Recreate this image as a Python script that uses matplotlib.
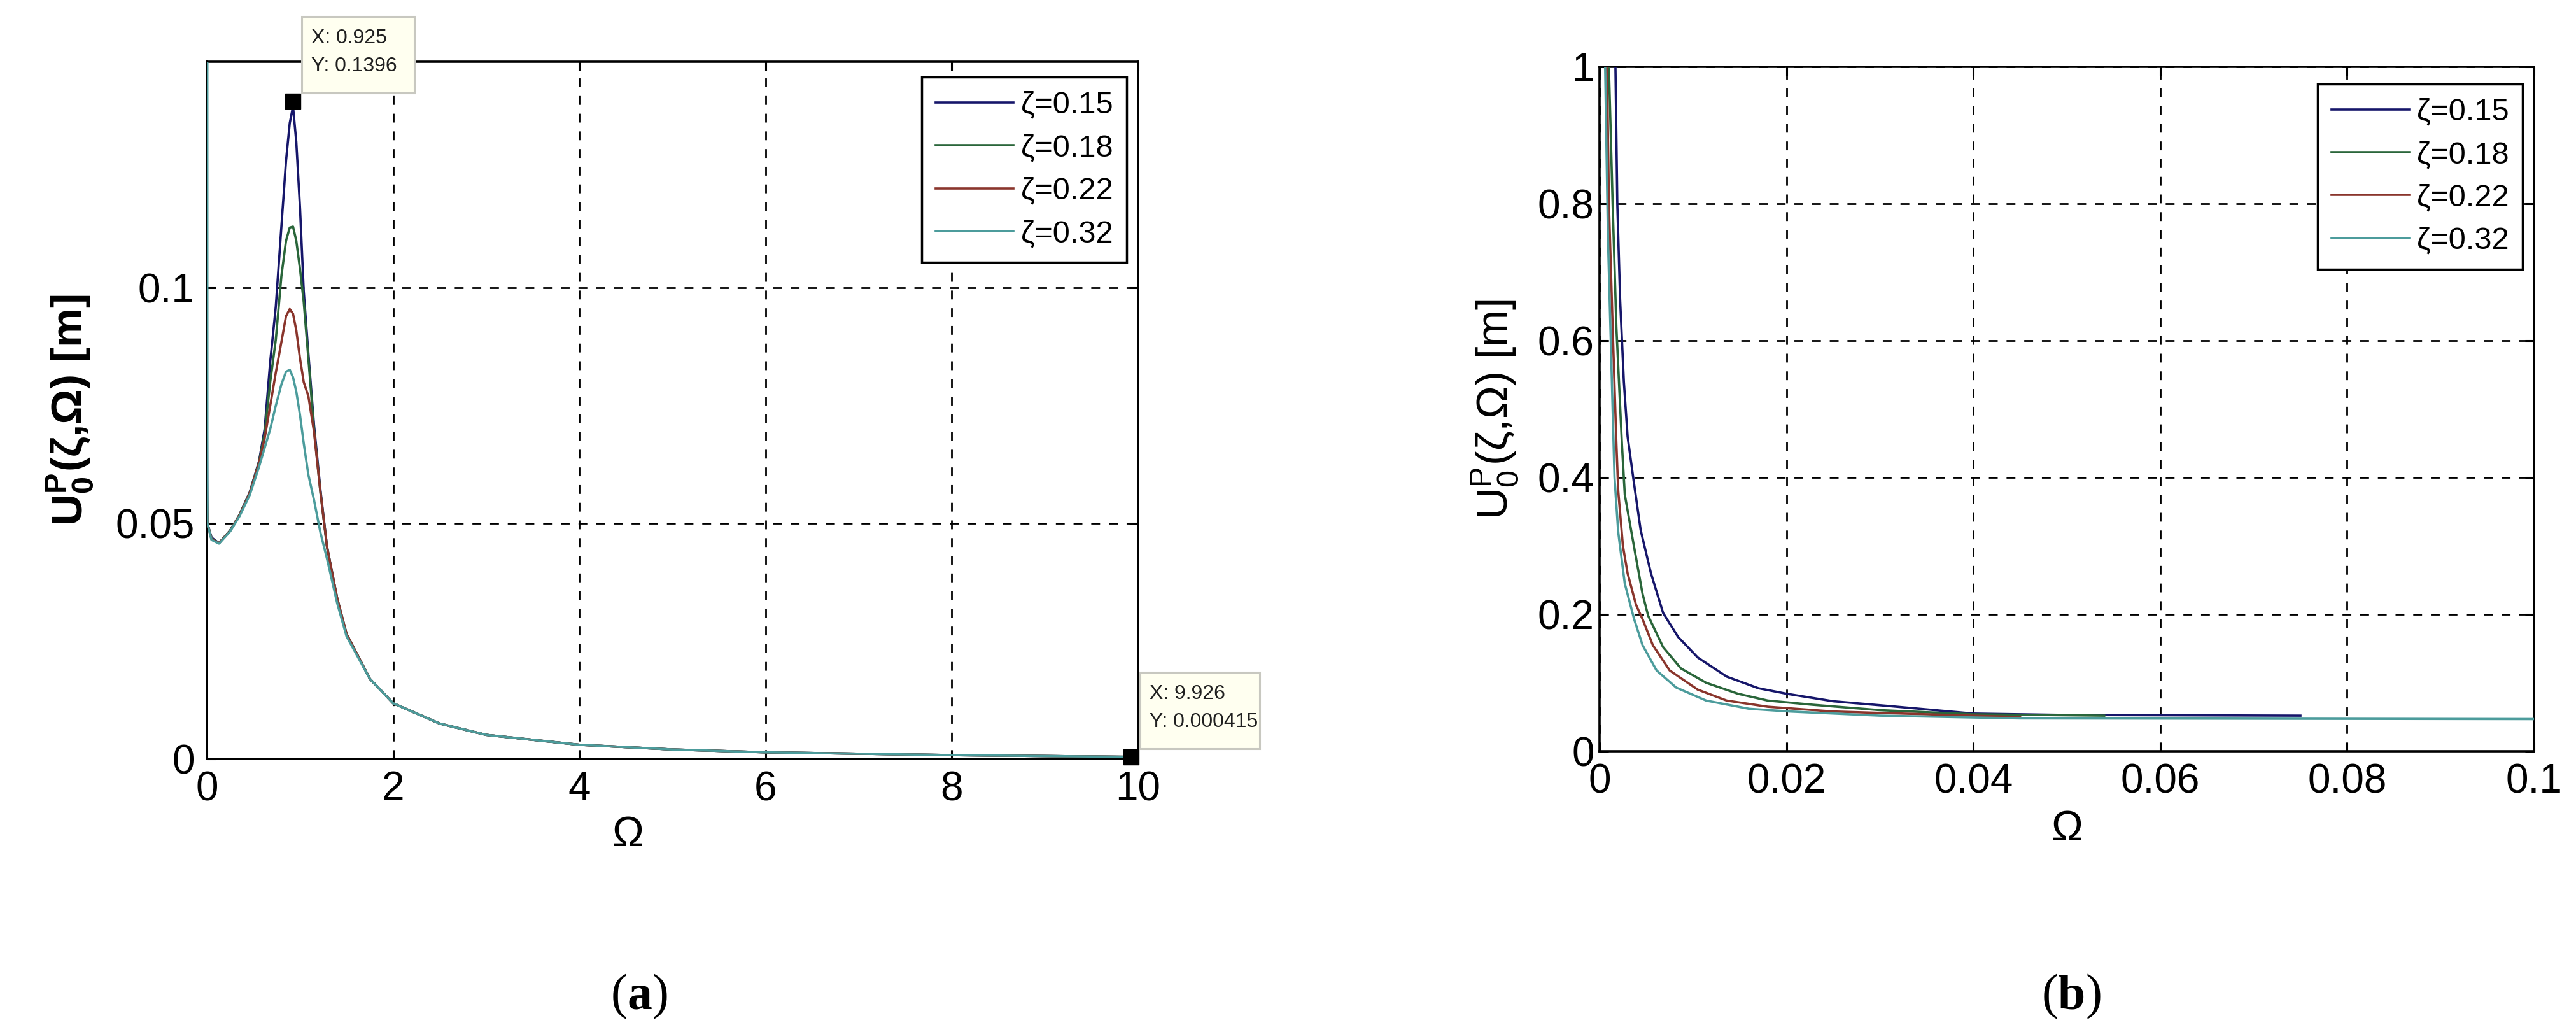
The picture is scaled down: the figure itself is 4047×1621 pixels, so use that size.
import matplotlib
matplotlib.use("Agg")
import matplotlib.pyplot as plt
from matplotlib.patches import Rectangle
from matplotlib.transforms import IdentityTransform, Bbox
from matplotlib.ticker import FormatStrFormatter
from matplotlib.offsetbox import TextArea, HPacker, AnnotationBbox

plt.rcParams['font.family'] = ['Liberation Sans', 'DejaVu Sans']
plt.rcParams['mathtext.fontset'] = 'custom'
plt.rcParams['mathtext.rm'] = 'Liberation Sans'
plt.rcParams['mathtext.it'] = 'Liberation Sans:italic'
plt.rcParams['mathtext.bf'] = 'Liberation Sans:bold'

zeta_labels = ['ζ=0.15', 'ζ=0.18', 'ζ=0.22', 'ζ=0.32']
colors = ['#16166a', '#2a663a', '#8a352c', '#4c9c9c']

# panel (a): 0 <= Omega <= 10
omega_a = [0.0, 0.005, 0.05, 0.13, 0.25, 0.35, 0.46, 0.56, 0.62, 0.68, 0.74, 0.80,
           0.85, 0.89, 0.925, 0.96, 1.00, 1.04, 1.09, 1.15, 1.22, 1.29, 1.40, 1.50,
           1.75, 2.0, 2.5, 3.0, 4.0, 5.0, 6.0, 8.0, 10.0]
u_a_015 = [0.076, 0.050, 0.047, 0.0458, 0.0485, 0.0518, 0.0566, 0.0632, 0.070, 0.0843, 0.096, 0.113,
           0.127, 0.135, 0.1385, 0.131, 0.117, 0.0993, 0.086, 0.071, 0.057, 0.0451, 0.034, 0.0265,
           0.017, 0.0118, 0.0075, 0.0051, 0.0030, 0.0020, 0.0014, 0.0008, 0.000415]
u_a_018 = [0.063, 0.050, 0.0468, 0.0458, 0.0485, 0.0518, 0.0565, 0.063, 0.069, 0.080, 0.089, 0.1025,
           0.110, 0.1128, 0.113, 0.110, 0.104, 0.097, 0.085, 0.070, 0.0565, 0.045, 0.034, 0.0265,
           0.017, 0.0118, 0.0075, 0.0051, 0.0030, 0.0020, 0.0014, 0.0008, 0.000415]
u_a_022 = [0.057, 0.050, 0.0466, 0.0458, 0.0484, 0.0517, 0.0564, 0.0628, 0.068, 0.075, 0.082, 0.0885,
           0.094, 0.0955, 0.0945, 0.091, 0.085, 0.080, 0.077, 0.0695, 0.0565, 0.045, 0.034, 0.0265,
           0.017, 0.0118, 0.0075, 0.0051, 0.0030, 0.0020, 0.0014, 0.0008, 0.000415]
u_a_032 = [1.0, 0.050, 0.0465, 0.0457, 0.0483, 0.0515, 0.056, 0.062, 0.066, 0.070, 0.075, 0.0795,
           0.0822, 0.0826, 0.081, 0.078, 0.073, 0.067, 0.0603, 0.055, 0.048, 0.0425, 0.033, 0.026,
           0.017, 0.0118, 0.0075, 0.0051, 0.0030, 0.0020, 0.0014, 0.0008, 0.000415]

# panel (b): zoom 0 <= Omega <= 0.1
omega_b_015 = [0.0015, 0.0017, 0.0019, 0.0022, 0.0026, 0.0030, 0.0037, 0.0044, 0.0055, 0.0068,
               0.0084, 0.0105, 0.0136, 0.017, 0.020, 0.025, 0.031, 0.040, 0.050, 0.075]
u_b_015 = [1.12, 1.0, 0.80, 0.66, 0.54, 0.46, 0.39, 0.323, 0.260, 0.202,
           0.167, 0.137, 0.109, 0.092, 0.084, 0.073, 0.066, 0.055, 0.053, 0.052]
omega_b_018 = [0.0009, 0.0010, 0.0014, 0.0018, 0.0024, 0.0027, 0.0037, 0.0046, 0.0052, 0.0068,
               0.0087, 0.0114, 0.0148, 0.018, 0.0227, 0.030, 0.040, 0.054]
u_b_018 = [1.12, 1.0, 0.80, 0.62, 0.447, 0.375, 0.298, 0.230, 0.198, 0.152,
           0.121, 0.100, 0.084, 0.074, 0.068, 0.060, 0.054, 0.052]
omega_b_022 = [0.0007, 0.0008, 0.0010, 0.0014, 0.0018, 0.0020, 0.0025, 0.0030, 0.0039, 0.0046,
               0.0057, 0.0075, 0.0105, 0.0136, 0.018, 0.025, 0.035, 0.045]
u_b_022 = [1.12, 1.0, 0.80, 0.62, 0.45, 0.38, 0.30, 0.26, 0.214, 0.193,
           0.155, 0.118, 0.090, 0.074, 0.065, 0.058, 0.054, 0.050]
omega_b_032 = [0.0005, 0.0006, 0.0009, 0.0013, 0.0016, 0.0020, 0.0027, 0.0037, 0.0046, 0.0061,
               0.0082, 0.0114, 0.016, 0.0204, 0.030, 0.045, 0.100]
u_b_032 = [1.12, 1.0, 0.75, 0.55, 0.40, 0.32, 0.245, 0.193, 0.155, 0.118,
           0.093, 0.074, 0.062, 0.058, 0.052, 0.048, 0.047]

tip_points = [(0.925, 0.1396), (9.926, 0.000415)]
tip_lines = [('X: 0.925', 'Y: 0.1396'), ('X: 9.926', 'Y: 0.000415')]
tip_widths = [177, 188]

W, H = 4048, 1621
fig = plt.figure(figsize=(W / 100, H / 100), dpi=100)


def px_axes(x0, y0, x1, y1):
    return fig.add_axes([x0 / W, 1 - y1 / H, (x1 - x0) / W, (y1 - y0) / H])


def style(ax):
    ax.grid(True, color='black', linestyle=(0, (5, 5)), linewidth=2.0)
    ax.tick_params(direction='in', length=10, width=2.2, top=True, right=True,
                   labelsize=46)
    ax.tick_params(axis='x', pad=13)
    for sp in ax.spines.values():
        sp.set_linewidth(2.6)
    ax.xaxis.set_major_formatter(FormatStrFormatter('%g'))
    ax.yaxis.set_major_formatter(FormatStrFormatter('%g'))


def add_legend(ax, anchor):
    leg = ax.legend(loc='upper right', bbox_to_anchor=anchor, fontsize=35,
                    handlelength=2.5, handletextpad=0.25, labelspacing=0.46,
                    borderpad=0.45, borderaxespad=0, fancybox=False, framealpha=1)
    leg.get_frame().set_edgecolor('black')
    leg.get_frame().set_linewidth(2.5)
    leg.set_zorder(10)


ax1 = px_axes(325, 97, 1788, 1192)
ax2 = px_axes(2513, 105, 3981, 1180)

for u, c, lab in zip([u_a_015, u_a_018, u_a_022, u_a_032], colors, zeta_labels):
    ax1.plot(omega_a, u, color=c, lw=2.6, label=lab, zorder=3)
ax1.set_xlim(0, 10)
ax1.set_ylim(0, 0.148)
ax1.set_xticks([0, 2, 4, 6, 8, 10])
ax1.set_yticks([0, 0.05, 0.1])
style(ax1)
ax1.tick_params(axis='y', pad=14)
ax1.set_xlabel('Ω', fontsize=48)
ax1.xaxis.set_label_coords(0.452, -0.081)
ax1.set_ylabel(r'U$_\mathbf{0}^\mathbf{P}$(ζ,Ω) [m]', fontsize=50, fontweight='bold')
ax1.yaxis.set_label_coords(-0.12, 0.5)
add_legend(ax1, (0.988, 0.978))

b_sets = [(omega_b_015, u_b_015), (omega_b_018, u_b_018),
          (omega_b_022, u_b_022), (omega_b_032, u_b_032)]
for (om, u), c, lab in zip(b_sets, colors, zeta_labels):
    ax2.plot(om, u, color=c, lw=2.6, label=lab, zorder=3)
ax2.set_xlim(0, 0.1)
ax2.set_ylim(0, 1)
ax2.set_xticks([0, 0.02, 0.04, 0.06, 0.08, 0.1])
ax2.set_yticks([0, 0.2, 0.4, 0.6, 0.8, 1])
style(ax2)
ax2.tick_params(axis='y', pad=6)
ax2.set_xlabel('Ω', fontsize=48)
ax2.xaxis.set_label_coords(0.5, -0.086)
ax2.set_ylabel(r'U$_0^\mathrm{P}$(ζ,Ω) [m]', fontsize=50)
ax2.yaxis.set_label_coords(-0.085, 0.5)
add_legend(ax2, (0.988, 0.975))

# MATLAB style data tips
for (x, y), (l1, l2), w in zip(tip_points, tip_lines, tip_widths):
    ax1.plot([x], [y], 's', color='black', ms=17, clip_on=False, zorder=6)
    px, py = ax1.transData.transform((x, y))
    rect = Rectangle((px + 14, py + 13), w, 120, transform=IdentityTransform(),
                     facecolor='#fffff0', edgecolor='#c8c8c0', linewidth=2.2, zorder=5)
    fig.add_artist(rect)
    clip = Bbox.from_bounds(px + 14, py + 13, w, 120)
    for txt, dy in [(l1, 99), (l2, 55)]:
        t = fig.text(px + 29, py + dy, txt, transform=IdentityTransform(), fontsize=23,
                     color='#202020', va='center', ha='left', zorder=6)
        t.set_clip_box(clip)
        t.set_clip_on(True)

# panel captions
for letter, xf in [('a', 1005 / W), ('b', 3255 / W)]:
    parts = [TextArea('(', textprops=dict(fontsize=56, family='Liberation Serif')),
             TextArea(letter, textprops=dict(fontsize=56, family='Liberation Serif',
                                             fontweight='bold')),
             TextArea(')', textprops=dict(fontsize=56, family='Liberation Serif'))]
    box = HPacker(children=parts, align='baseline', pad=0, sep=0)
    fig.add_artist(AnnotationBbox(box, (xf, 1 - 1566 / H), xycoords='figure fraction',
                                  frameon=False, box_alignment=(0.5, 0.5)))

fig.savefig('out.png', dpi=100)
